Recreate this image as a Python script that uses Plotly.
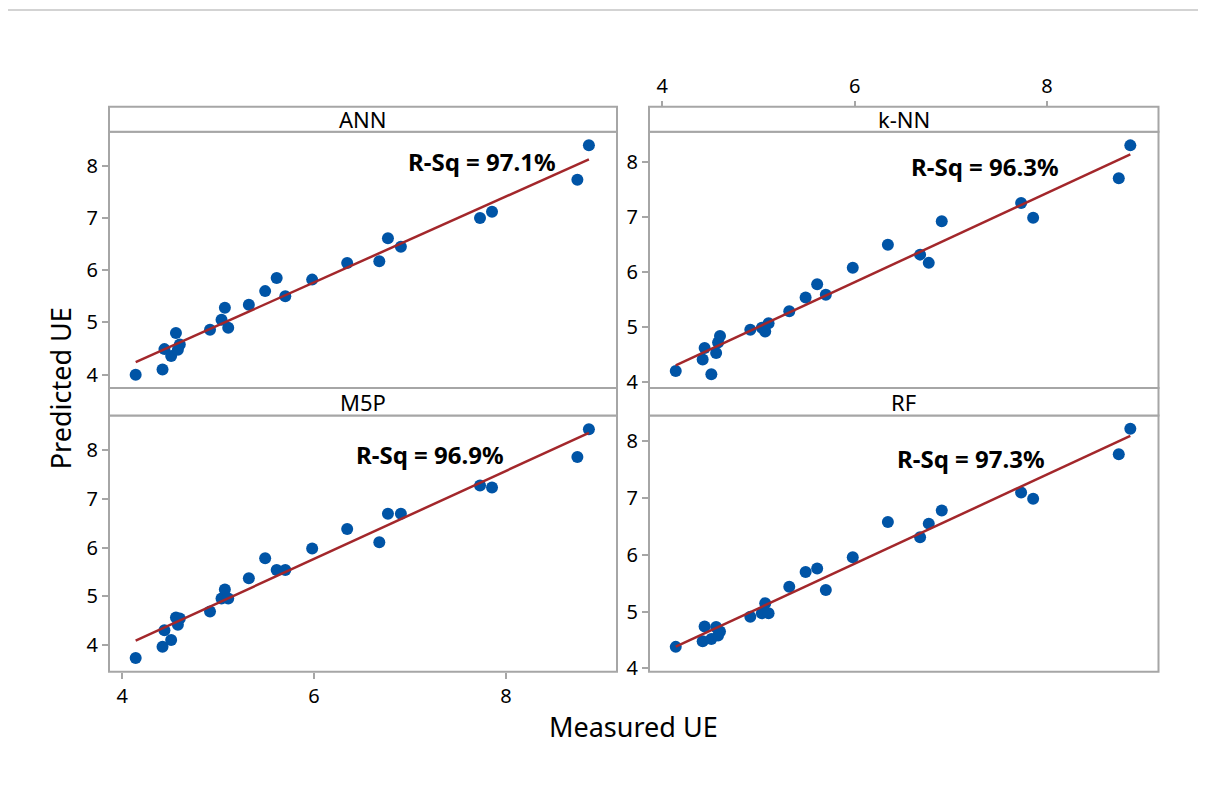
import numpy as np
import plotly.graph_objects as go

# ---------------- data ----------------
measured = [4.14, 4.42, 4.44, 4.51, 4.56, 4.58, 4.60, 4.915, 5.035, 5.07, 5.105,
            5.32, 5.49, 5.61, 5.70, 5.98, 6.345, 6.68, 6.77, 6.905, 7.73, 7.855,
            8.745, 8.865]
pred_ann = [4.00, 4.10, 4.49, 4.36, 4.80, 4.48, 4.58, 4.86, 5.05, 5.28, 4.90,
            5.34, 5.60, 5.85, 5.50, 5.82, 6.14, 6.17, 6.61, 6.45, 7.00, 7.12,
            7.73, 8.39]
pred_knn = [4.20, 4.41, 4.62, 4.14, 4.53, 4.72, 4.84, 4.95, 4.99, 4.92, 5.07,
            5.29, 5.54, 5.78, 5.59, 6.08, 6.50, 6.32, 6.17, 6.93, 7.26, 6.99,
            7.71, 8.31]
pred_m5p = [3.74, 3.97, 4.31, 4.11, 4.57, 4.42, 4.55, 4.69, 4.96, 5.14, 4.96,
            5.37, 5.78, 5.54, 5.54, 5.98, 6.38, 6.11, 6.69, 6.69, 7.27, 7.23,
            7.85, 8.42]
pred_rf = [4.38, 4.48, 4.74, 4.52, 4.73, 4.58, 4.65, 4.91, 4.97, 5.15, 4.97,
           5.44, 5.70, 5.76, 5.38, 5.96, 6.58, 6.31, 6.55, 6.78, 7.10, 6.99,
           7.77, 8.22]
panel_names = ["ANN", "k-NN", "M5P", "RF"]
rsq_labels = ["R-Sq = 97.1%", "R-Sq = 96.3%", "R-Sq = 96.9%", "R-Sq = 97.3%"]
x_ticks = [4, 6, 8]
y_ticks = [4, 5, 6, 7, 8]

# ---------------- layout helpers ----------------
W, H = 1206, 809
OFF = 8  # page body margin offset
def px(x):
    return (x - OFF) / W
def py(y):
    return 1 - (y - OFF) / H

FONT = "Noto Sans"
BLUE = "#0054A6"
RED = "#A3272B"
GREY = "#A6A6A6"

col_x = [(109, 617), (649, 1158.5)]
row_plot = [(133.3, 392.7), (420.7, 680)]
row_strip = [(108, 133.3), (392.7, 420.7)]
x_range = [3.862, 9.158]
y_ranges = [[3.747, 8.65], [3.892, 8.558], [3.461, 8.699], [3.943, 8.452]]
text_pos = [(7.75, 8.09), (7.35, 7.92), (7.21, 7.905), (7.21, 7.70)]

series = [pred_ann, pred_knn, pred_m5p, pred_rf]

fig = go.Figure()
shapes = []
annotations = []
layout_axes = {}

for i, (name, yv) in enumerate(zip(panel_names, series)):
    r, c = divmod(i, 2)
    k = i + 1
    xa = "x" if k == 1 else f"x{k}"
    ya = "y" if k == 1 else f"y{k}"
    xv = np.array(measured)
    yarr = np.array(yv)
    fig.add_trace(go.Scatter(x=xv, y=yarr, mode="markers", xaxis=xa, yaxis=ya,
                             marker=dict(color=BLUE, size=12), showlegend=False,
                             hoverinfo="x+y"))
    b, a = np.polyfit(xv, yarr, 1)
    lx = np.array([xv.min(), xv.max()])
    fig.add_trace(go.Scatter(x=lx, y=a + b * lx, mode="lines", xaxis=xa, yaxis=ya,
                             line=dict(color=RED, width=2.5), showlegend=False,
                             hoverinfo="skip"))

    x0, x1 = col_x[c]
    t0, t1 = row_plot[r]
    s0, s1 = row_strip[r]
    xkey = "xaxis" if k == 1 else f"xaxis{k}"
    ykey = "yaxis" if k == 1 else f"yaxis{k}"

    xaxis = dict(domain=[px(x0), px(x1)], range=x_range, anchor=ya,
                 showgrid=False, zeroline=False, showline=False,
                 tickvals=x_ticks, ticks="", showticklabels=False,
                 tickfont=dict(family=FONT, size=20, color="black"))
    if i == 2:  # bottom-left: labels at bottom
        xaxis.update(ticks="outside", ticklen=6, tickcolor=GREY, tickwidth=1.5,
                     showticklabels=True)
    if i == 1:  # top-right: labels at top, above strip
        xaxis.update(ticks="outside", ticklen=6, tickcolor=GREY, tickwidth=1.5,
                     showticklabels=True, side="top", anchor="free",
                     position=py(s0))
    layout_axes[xkey] = xaxis
    layout_axes[ykey] = dict(domain=[py(t1), py(t0)], range=y_ranges[i], anchor=xa,
                             showgrid=False, zeroline=False, showline=False,
                             tickvals=y_ticks, ticks="outside", ticklen=6,
                             tickcolor=GREY, tickwidth=1.5,
                             tickfont=dict(family=FONT, size=20, color="black"))

    # panel frame and strip
    shapes.append(dict(type="rect", xref="paper", yref="paper",
                       x0=px(x0), x1=px(x1), y0=py(t1), y1=py(t0),
                       line=dict(color=GREY, width=2), layer="above"))
    shapes.append(dict(type="rect", xref="paper", yref="paper",
                       x0=px(x0), x1=px(x1), y0=py(s1), y1=py(s0),
                       line=dict(color=GREY, width=2), fillcolor="white"))
    annotations.append(dict(text=name, xref="paper", yref="paper",
                            x=(px(x0) + px(x1)) / 2, y=(py(s0) + py(s1)) / 2,
                            showarrow=False, xanchor="center", yanchor="middle",
                            font=dict(family=FONT, size=22, color="black")))
    tx, ty = text_pos[i]
    annotations.append(dict(text="<b>" + rsq_labels[i] + "</b>", xref=xa, yref=ya,
                            x=tx, y=ty, showarrow=False, xanchor="center",
                            yanchor="middle",
                            font=dict(family=FONT, size=24, color="black")))

annotations.append(dict(text="Measured UE", xref="paper", yref="paper",
                        x=px(633), y=py(735), showarrow=False, xanchor="center",
                        yanchor="middle", font=dict(family=FONT, size=27, color="black")))
annotations.append(dict(text="Predicted UE", xref="paper", yref="paper",
                        x=px(60), y=py(393), showarrow=False, xanchor="center",
                        yanchor="middle", textangle=-90,
                        font=dict(family=FONT, size=27, color="black")))

# outer light frame (top edge)
shapes.append(dict(type="line", xref="paper", yref="paper", x0=0, x1=1,
                   y0=py(10), y1=py(10), line=dict(color="#D3D3D3", width=2)))

fig.update_layout(width=W, height=H, margin=dict(l=0, r=0, t=0, b=0),
                  plot_bgcolor="white", paper_bgcolor="white",
                  shapes=shapes, annotations=annotations,
                  font=dict(family=FONT, color="black"), **layout_axes)

fig.write_html("out.html")
